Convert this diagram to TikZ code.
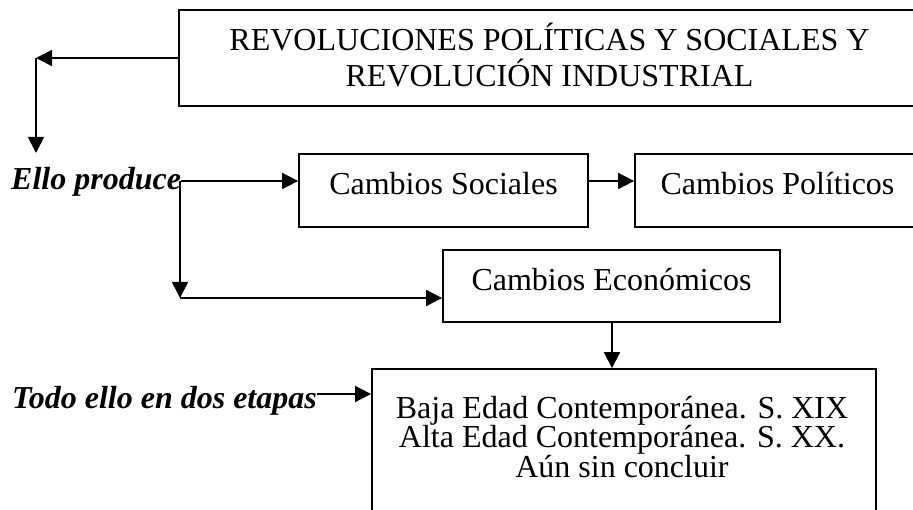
\documentclass[tikz,border=0pt]{standalone}
\usepackage{fontspec}
\setmainfont{Liberation Serif}
\usetikzlibrary{arrows.meta}
\begin{document}
\begin{tikzpicture}[x=1pt,y=-1pt,
  box/.style={draw, line width=1.8pt, inner sep=0pt, font=\fontsize{32}{36}\selectfont, text height=22pt, text depth=13pt},
  tbox/.style={draw, line width=1.8pt, inner sep=0pt, align=center},
  txt/.style={inner sep=0pt, align=center},
  lbl/.style={font=\fontsize{32}{36}\selectfont\bfseries\itshape, inner sep=0pt},
  arr/.style={line width=1.8pt, -{Triangle[length=16pt,width=16pt]}}]
\useasboundingbox (0,0) rectangle (913,510);
% boxes
\node[tbox, minimum width=741pt, minimum height=96pt] (top) at (549.5,58) {};
\node[txt, anchor=base, font=\fontsize{32}{36}\selectfont] (toptext) at (549.5,87)
  {REVOLUCIONES POLÍTICAS Y SOCIALES Y\\REVOLUCIÓN INDUSTRIAL};
\node[box, minimum width=289pt, minimum height=73pt] (soc) at (443.5,190.5) {Cambios Sociales};
\node[box, minimum width=285pt, minimum height=73pt] (pol) at (777.5,190.5) {Cambios Políticos};
\node[box, minimum width=337pt, minimum height=72pt] (eco) at (611.5,286) {Cambios Económicos};
\node[tbox, minimum width=504pt, minimum height=161pt] (fin) at (624,449.5) {};
\node[txt, anchor=base, font=\fontsize{32}{29.5}\selectfont] (fintext) at (622,477)
  {Baja Edad Contemporánea. S. XIX\\Alta Edad Contemporánea. S. XX.\\Aún sin concluir};
% labels
\node[lbl, anchor=base west] (ello) at (11,190) {Ello produce};
\node[lbl, anchor=base west] (todo) at (12,409) {Todo ello en dos etapas};
% junctions
\coordinate (c1) at (36,58);
\coordinate (c2) at (36,153);
\coordinate (j1) at (180,181);
\coordinate (j2) at (180,298);
% connectors
\draw[arr] (top.west) -- (c1);
\draw[arr] (c1) -- (c2);
\draw[arr] (ello.east |- j1) -- (soc.west |- j1);
\draw[arr] (j1) -- (j2);
\draw[arr] (j2) -- (eco.west |- j2);
\draw[arr] (soc.east |- j1) -- (pol.west |- j1);
\draw[arr] (eco.south -| 612,0) -- (612,0 |- fin.north);
\draw[arr] (todo.east |- 0,394) -- (fin.west |- 0,394);
\end{tikzpicture}
\end{document}
